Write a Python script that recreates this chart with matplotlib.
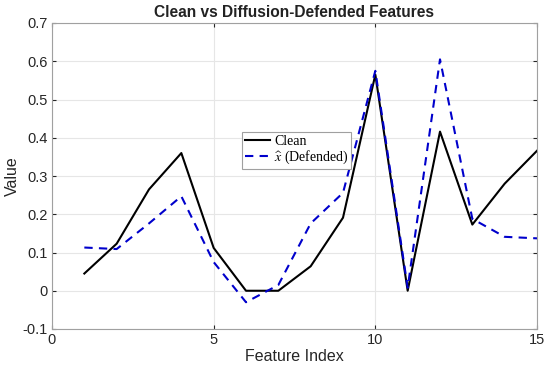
import numpy as np
import matplotlib
matplotlib.use("Agg")
import matplotlib.pyplot as plt

# feature values
feature_idx = np.arange(1, 16)
clean = [0.045, 0.123, 0.265, 0.360, 0.112, 0.0, 0.0, 0.064, 0.191,
         0.565, 0.0, 0.416, 0.173, 0.280, 0.366]
defended = [0.113, 0.109, 0.176, 0.247, 0.075, -0.030, 0.015, 0.176, 0.256,
            0.575, 0.008, 0.605, 0.188, 0.141, 0.137]
y_ticks = [-0.1, 0, 0.1, 0.2, 0.3, 0.4, 0.5, 0.6, 0.7]
y_tick_labels = ['-0.1', '0', '0.1', '0.2', '0.3', '0.4', '0.5', '0.6', '0.7']

plt.rcParams['font.family'] = ['Liberation Sans', 'DejaVu Sans']
plt.rcParams['mathtext.fontset'] = 'stix'

fig = plt.figure(figsize=(5.5, 3.71), dpi=100)
ax = fig.add_axes([52 / 550, 1 - 329 / 371, 485 / 550, 306 / 371])

ax.plot(feature_idx, clean, color='black', lw=1.5, label='Clean')
ax.plot(feature_idx, defended, color='#0000cc', lw=1.5, ls=(0, (4, 3)),
        label=r'$\widehat{x}$ (Defended)')

ax.set_xlim(0, 15)
ax.set_ylim(-0.1, 0.7)
ax.set_xticks([0, 5, 10, 15])
ax.set_yticks(y_ticks)
ax.set_yticklabels(y_tick_labels)
ax.grid(True, color='#e6e6e6', lw=0.8)
ax.set_axisbelow(True)
ax.tick_params(direction='in', length=3, labelsize=10.5, colors='#262626',
               top=True, right=True, pad=3)
for s in ax.spines.values():
    s.set_color('#a0a0a0')

ax.set_title('Clean vs Diffusion-Defended Features', fontsize=11.2,
             fontweight='bold', color='#222222', pad=4)
ax.set_xlabel('Feature Index', fontsize=11.5, color='#262626', labelpad=1)
ax.set_ylabel('Value', fontsize=11.5, color='#262626')
ax.yaxis.set_label_coords(-0.066, 0.5)

leg = ax.legend(loc='upper left', bbox_to_anchor=(0.392, 0.643),
                prop={'family': ['Liberation Serif'], 'size': 10},
                fancybox=False, edgecolor='#a0a0a0', framealpha=1,
                handlelength=1.8, handletextpad=0.3, borderpad=0.2,
                labelspacing=0.05, borderaxespad=0)
leg.get_frame().set_linewidth(0.8)

fig.savefig('out.png', dpi=100)
